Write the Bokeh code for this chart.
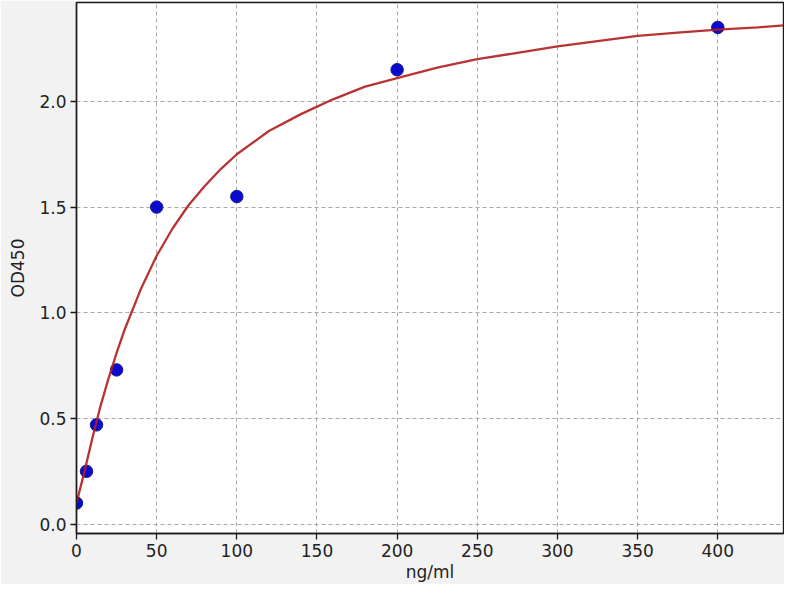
from bokeh.models import ColumnDataSource, Range1d, FixedTicker, PrintfTickFormatter
from bokeh.plotting import figure
from bokeh.embed import file_html
from bokeh.resources import INLINE

# measured standards
conc = [0, 6.25, 12.5, 25, 50, 100, 200, 400]
od = [0.10, 0.25, 0.47, 0.73, 1.50, 1.55, 2.15, 2.35]

# fitted curve
curve_x = [0, 5, 10, 15, 20, 25, 30, 40, 50, 60, 70, 80, 90, 100, 120, 140,
           160, 180, 200, 225, 250, 275, 300, 325, 350, 375, 400, 425, 441]
curve_y = [0.10, 0.25, 0.41, 0.56, 0.69, 0.81, 0.92, 1.11, 1.27, 1.40, 1.51,
           1.60, 1.68, 1.75, 1.86, 1.94, 2.01, 2.07, 2.11, 2.16, 2.20, 2.23,
           2.26, 2.285, 2.31, 2.325, 2.34, 2.35, 2.36]

x_ticks = [0, 50, 100, 150, 200, 250, 300, 350, 400]
y_ticks = [0.0, 0.5, 1.0, 1.5, 2.0]

FONT = "DejaVu Sans"

p = figure(width=784, height=584, output_backend="svg", toolbar_location=None,
           x_range=Range1d(0, 441), y_range=Range1d(-0.044, 2.468),
           min_border_left=76, min_border_right=1, min_border_top=2,
           min_border_bottom=50)

p.background_fill_color = "white"
p.border_fill_color = "#f2f2f2"
p.outline_line_color = "#1a1a1a"
p.outline_line_width = 1.4

for ax in (p.xaxis, p.yaxis):
    ax.axis_line_color = "#1a1a1a"
    ax.axis_line_width = 1.4
    ax.major_tick_line_color = "#1a1a1a"
    ax.major_tick_line_width = 1.3
    ax.major_tick_out = 6
    ax.major_tick_in = 0
    ax.minor_tick_line_color = None
    ax.major_label_text_font = FONT
    ax.major_label_text_font_size = "17px"
    ax.major_label_text_color = "#222222"
    ax.major_label_standoff = 4
    ax.axis_label_text_font = FONT
    ax.axis_label_text_font_size = "17px"
    ax.axis_label_text_font_style = "normal"
    ax.axis_label_text_color = "#222222"

p.xaxis.ticker = FixedTicker(ticks=x_ticks)
p.yaxis.ticker = FixedTicker(ticks=y_ticks)
p.yaxis.formatter = PrintfTickFormatter(format="%.1f")
p.xaxis.axis_label = "ng/ml"
p.yaxis.axis_label = "OD450"
p.xaxis.axis_label_standoff = 2
p.yaxis.axis_label_standoff = 8

p.grid.grid_line_color = "#a8a8a8"
p.grid.grid_line_dash = "4 3"
p.grid.grid_line_width = 1

fit = ColumnDataSource(data=dict(x=curve_x, y=curve_y))
pts = ColumnDataSource(data=dict(x=conc, y=od))

p.scatter("x", "y", source=pts, size=12.5, fill_color="#0a0acc",
          line_color="#1c1c8c", line_width=1)
p.line("x", "y", source=fit, line_color="#b01e1e", line_width=2.3, line_alpha=0.9)

open("out.html", "w").write(file_html(p, INLINE))
